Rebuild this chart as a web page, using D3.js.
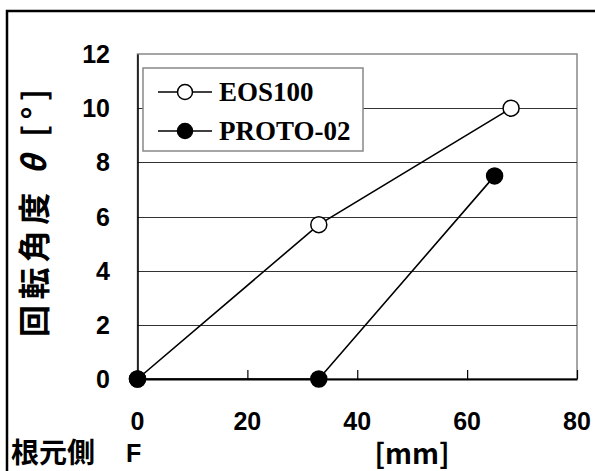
<!DOCTYPE html>
<html>
<head>
<meta charset="utf-8">
<script src="https://cdnjs.cloudflare.com/ajax/libs/d3/7.8.5/d3.min.js"></script>
<style>
  body { margin: 0; background: #fff; }
  .tickText { font-family: "Liberation Sans", Arial, sans-serif; font-weight: bold; font-size: 25px; fill: #000; }
  .jpText { font-family: "Noto Sans CJK JP", sans-serif; font-weight: bold; fill: #000; }
  .legendText { font-family: "Liberation Serif", "Times New Roman", serif; font-weight: bold; font-size: 27px; fill: #000; }
</style>
</head>
<body>
<div id="chart"></div>
<script>
// data
var seriesNames = ['EOS100', 'PROTO-02'];
var eosX = [0, 33, 68];
var eosY = [0, 5.7, 10];
var protoX = [0, 33, 65];
var protoY = [0, 0, 7.5];
var xTicks = [0, 20, 40, 60, 80];
var yTicks = [0, 2, 4, 6, 8, 10, 12];

var svgWidth = 595;
var svgHeight = 471;

var svg = d3.select('#chart')
    .append('svg')
    .attr('width', svgWidth)
    .attr('height', svgHeight);

// outer frame (right/bottom edges are cut off in the picture)
svg.append('rect')
    .attr('x', 7)
    .attr('y', 11)
    .attr('width', 620)
    .attr('height', 500)
    .attr('fill', 'none')
    .attr('stroke', '#000')
    .attr('stroke-width', 2.5);

var xScale = d3.scaleLinear().domain([0, 80]).range([137.5, 577]);
var yScale = d3.scaleLinear().domain([0, 12]).range([379, 54]);

// plot area border
svg.append('rect')
    .attr('x', xScale(0))
    .attr('y', yScale(12))
    .attr('width', xScale(80) - xScale(0))
    .attr('height', yScale(0) - yScale(12))
    .attr('fill', 'none')
    .attr('stroke', '#888')
    .attr('stroke-width', 1.5);

// gridlines
svg.selectAll('.grid')
    .data(yTicks.filter(function (d) { return d > 0 && d < 12; }))
    .enter()
    .append('line')
    .attr('x1', xScale(0))
    .attr('x2', xScale(80))
    .attr('y1', function (d) { return Math.round(yScale(d)) + 0.5; })
    .attr('y2', function (d) { return Math.round(yScale(d)) + 0.5; })
    .attr('stroke', '#333')
    .attr('stroke-width', 1);

// axes
var bottomAxis = d3.axisBottom(xScale).tickValues(xTicks).tickSizeInner(-9).tickSizeOuter(0).tickFormat('');
var leftAxis = d3.axisLeft(yScale).tickValues(yTicks).tickSize(0).tickFormat('');

var xAxisG = svg.append('g')
    .attr('transform', 'translate(0,' + yScale(0) + ')')
    .call(bottomAxis);
xAxisG.select('.domain').attr('stroke', '#000').attr('stroke-width', 2);
xAxisG.selectAll('.tick line').attr('stroke', '#000').attr('stroke-width', 1.2);

var yAxisG = svg.append('g')
    .attr('transform', 'translate(' + xScale(0) + ',0)')
    .call(leftAxis);
yAxisG.select('.domain').attr('stroke', '#000').attr('stroke-width', 1.5);

// tick labels
svg.selectAll('.ylab')
    .data(yTicks)
    .enter()
    .append('text')
    .attr('class', 'tickText')
    .attr('x', 110)
    .attr('y', function (d) { return yScale(d) + 9; })
    .attr('text-anchor', 'end')
    .text(function (d) { return d; });

svg.selectAll('.xlab')
    .data(xTicks)
    .enter()
    .append('text')
    .attr('class', 'tickText')
    .attr('x', function (d) { return xScale(d); })
    .attr('y', 430)
    .attr('text-anchor', 'middle')
    .text(function (d) { return d; });

// series lines + markers
var line = d3.line()
    .x(function (d) { return xScale(d[0]); })
    .y(function (d) { return yScale(d[1]); });

var series = [
    { name: seriesNames[0], pts: d3.zip(eosX, eosY), fill: '#fff' },
    { name: seriesNames[1], pts: d3.zip(protoX, protoY), fill: '#000' }
];

series.forEach(function (s) {
    svg.append('path')
        .datum(s.pts)
        .attr('d', line)
        .attr('fill', 'none')
        .attr('stroke', '#000')
        .attr('stroke-width', 1.6);
});

series.forEach(function (s) {
    svg.selectAll(null)
        .data(s.pts)
        .enter()
        .append('circle')
        .attr('cx', function (d) { return xScale(d[0]); })
        .attr('cy', function (d) { return yScale(d[1]); })
        .attr('r', 8)
        .attr('fill', s.fill)
        .attr('stroke', '#000')
        .attr('stroke-width', 1.5);
});

// legend
svg.append('rect')
    .attr('x', 143)
    .attr('y', 68)
    .attr('width', 220)
    .attr('height', 83)
    .attr('fill', '#fff')
    .attr('stroke', '#888')
    .attr('stroke-width', 1.5);

series.forEach(function (s, i) {
    var ly = 92 + i * 39;
    svg.append('line')
        .attr('x1', 158).attr('x2', 212)
        .attr('y1', ly).attr('y2', ly)
        .attr('stroke', '#000')
        .attr('stroke-width', 1.6);
    svg.append('circle')
        .attr('cx', 185).attr('cy', ly)
        .attr('r', 7.5)
        .attr('fill', s.fill)
        .attr('stroke', '#000')
        .attr('stroke-width', 1.5);
    svg.append('text')
        .attr('class', 'legendText')
        .attr('x', 219)
        .attr('y', ly + 9)
        .text(s.name);
});

// y axis title
var yTitle = svg.append('text')
    .attr('class', 'jpText')
    .attr('transform', 'translate(46,213) rotate(-90)')
    .attr('text-anchor', 'middle')
    .attr('font-size', '32px')
    .attr('textLength', 248)
    .attr('lengthAdjust', 'spacing');
yTitle.append('tspan').text('回転角度 ');
yTitle.append('tspan').attr('font-style', 'italic').text('θ');
yTitle.append('tspan').text(' [°]');

// x axis labels
svg.append('text')
    .attr('class', 'jpText')
    .attr('x', 412)
    .attr('y', 464)
    .attr('text-anchor', 'middle')
    .attr('font-size', '28px')
    .attr('font-weight', 'bold')
    .text('[mm]');

svg.append('text')
    .attr('class', 'jpText')
    .attr('x', 11)
    .attr('y', 463)
    .attr('font-size', '28px')
    .text('根元側');

svg.append('text')
    .attr('class', 'tickText')
    .attr('x', 126)
    .attr('y', 462)
    .text('F');
</script>
</body>
</html>
